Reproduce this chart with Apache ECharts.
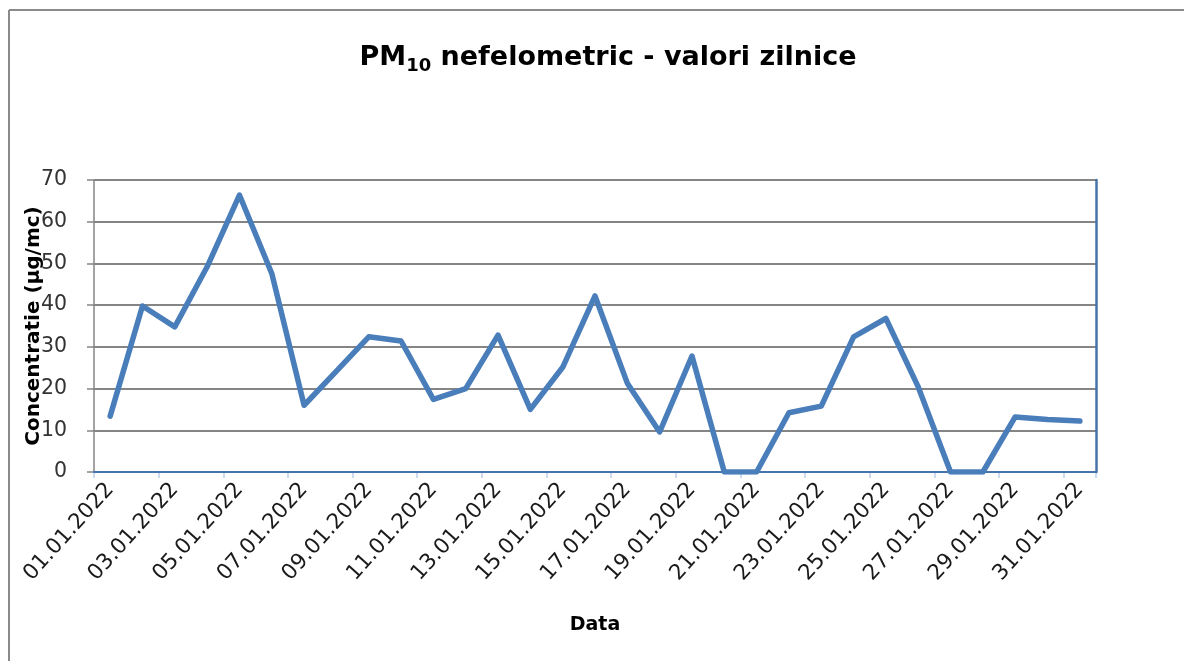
<!DOCTYPE html>
<html>
<head>
<meta charset="utf-8">
<script src="https://cdn.jsdelivr.net/npm/echarts@6/dist/echarts.min.js"></script>
<style>
  html, body { margin: 0; padding: 0; background: #fff; overflow: hidden; width: 1184px; height: 661px; }
  #chart { position: absolute; left: 0; top: 0; width: 1184px; height: 661px; }
</style>
</head>
<body>
<div id="chart"></div>
<script>
const categories = [
  '01.01.2022','02.01.2022','03.01.2022','04.01.2022','05.01.2022','06.01.2022','07.01.2022',
  '08.01.2022','09.01.2022','10.01.2022','11.01.2022','12.01.2022','13.01.2022','14.01.2022',
  '15.01.2022','16.01.2022','17.01.2022','18.01.2022','19.01.2022','20.01.2022','21.01.2022',
  '22.01.2022','23.01.2022','24.01.2022','25.01.2022','26.01.2022','27.01.2022','28.01.2022',
  '29.01.2022','30.01.2022','31.01.2022'
];
const pm10 = [
  13.4, 39.8, 34.8, 49.2, 66.4, 47.6, 16.0,
  24.2, 32.4, 31.4, 17.4, 20.0, 32.8, 15.0,
  25.1, 42.2, 21.3, 9.6, 27.8, 0, 0,
  14.2, 15.8, 32.4, 36.8, 20.4, 0, 0,
  13.2, 12.6, 12.2
];
const yTicks = { min: 0, max: 70, interval: 10 };
const titleMain = 'PM';
const titleSub = '10';
const titleRest = ' nefelometric - valori zilnice';
const xName = 'Data';
const yName = 'Concentratie (µg/mc)';

const chart = echarts.init(document.getElementById('chart'), null, { renderer: 'canvas' });
const FONT = 'DejaVu Sans';
const BORDER_BLUE = '#4674aa';
const GRID_GRAY = '#858585';
const FRAME_GRAY = '#8a8a8a';

chart.setOption({
  animation: false,
  backgroundColor: '#fff',
  graphic: [
    { type: 'line', silent: true, shape: { x1: 9, y1: 10, x2: 1184, y2: 10 }, style: { stroke: FRAME_GRAY, lineWidth: 2 } },
    { type: 'line', silent: true, shape: { x1: 9, y1: 10, x2: 9, y2: 661 }, style: { stroke: FRAME_GRAY, lineWidth: 2 } }
  ],
  title: {
    text: '{a|' + titleMain + '}{b|' + titleSub + '}{a|' + titleRest + '}',
    left: 603,
    textAlign: 'center',
    top: 37,
    textStyle: {
      rich: {
        a: { fontFamily: FONT, fontWeight: 'bold', fontSize: 27, color: '#000', lineHeight: 32 },
        b: { fontFamily: FONT, fontWeight: 'bold', fontSize: 18, color: '#000', lineHeight: 32, padding: [16, 0, 0, 0] }
      }
    }
  },
  grid: { left: 94, right: 88, top: 180, bottom: 189, containLabel: false },
  xAxis: [{
    type: 'category',
    data: categories,
    boundaryGap: true,
    name: xName,
    nameLocation: 'middle',
    nameGap: 144,
    nameMoveOverlap: false,
    nameTextStyle: { fontFamily: FONT, fontWeight: 'bold', fontSize: 19, color: '#000' },
    axisLine: { show: true, lineStyle: { color: '#bcd0ea', width: 1.5 } },
    axisTick: { show: true, interval: 1, length: 6, lineStyle: { color: '#bcd0ea', width: 1.5 } },
    axisLabel: { interval: 1, rotate: 48, margin: 14, fontFamily: FONT, fontSize: 21.5, color: '#1a1a1a' },
    splitLine: { show: false }
  }, {
    type: 'category',
    data: categories,
    position: 'top',
    axisLine: { show: true, lineStyle: { color: BORDER_BLUE, width: 2 } },
    axisTick: { show: false },
    axisLabel: { show: false },
    splitLine: { show: false },
    z: 5
  }],
  yAxis: [{
    type: 'value',
    min: yTicks.min, max: yTicks.max, interval: yTicks.interval,
    name: yName,
    nameLocation: 'middle',
    nameGap: 50,
    nameMoveOverlap: false,
    nameTextStyle: { fontFamily: FONT, fontWeight: 'bold', fontSize: 20, color: '#000' },
    axisLine: { show: true, lineStyle: { color: GRID_GRAY, width: 1.5 } },
    axisTick: { show: true, length: 7, lineStyle: { color: GRID_GRAY, width: 1.5 } },
    axisLabel: { margin: 27, fontFamily: FONT, fontSize: 20.5, color: '#333' },
    splitLine: { show: true, lineStyle: { color: GRID_GRAY, width: 2 } }
  }, {
    type: 'value',
    position: 'right',
    min: yTicks.min, max: yTicks.max, interval: yTicks.interval,
    axisLine: { show: true, lineStyle: { color: BORDER_BLUE, width: 2.5 } },
    axisTick: { show: false },
    axisLabel: { show: false },
    splitLine: { show: false },
    z: 5
  }],
  series: [{
    type: 'line',
    data: pm10,
    xAxisIndex: 0,
    yAxisIndex: 0,
    symbol: 'none',
    smooth: false,
    lineStyle: { color: '#4a7ebb', width: 5.5, cap: 'round', join: 'round' },
    z: 10
  }]
});
</script>
</body>
</html>
